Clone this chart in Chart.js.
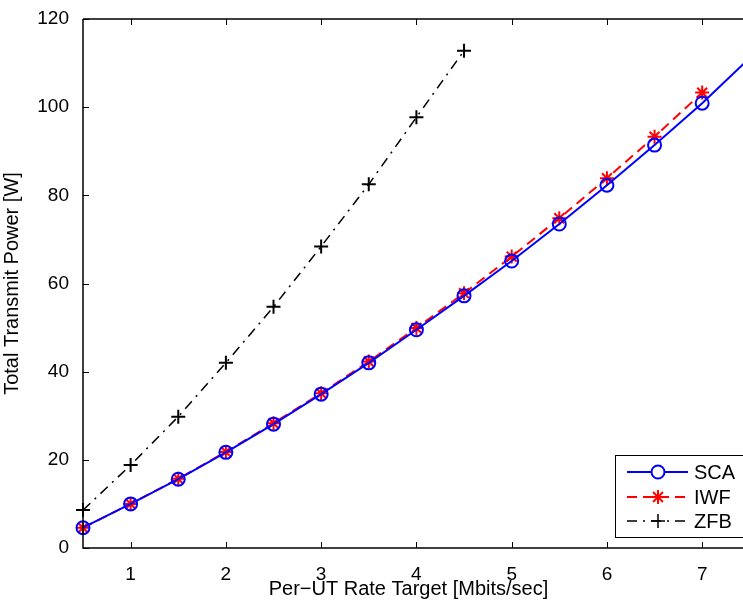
<!DOCTYPE html>
<html>
<head>
<meta charset="utf-8">
<script src="https://cdn.jsdelivr.net/npm/chart.js@4/dist/chart.umd.min.js"></script>
<style>
  html, body { margin: 0; padding: 0; background: #fff; }
  #wrap { width: 743px; height: 601px; }
</style>
</head>
<body>
<div id="wrap"><canvas id="myChart" width="743" height="601"></canvas></div>
<script>
// datos
var rates = [0.5, 1, 1.5, 2, 2.5, 3, 3.5, 4, 4.5, 5, 5.5, 6, 6.5, 7, 7.5];
var scaPower = [4.6, 10.0, 15.6, 21.7, 28.1, 34.9, 42.0, 49.5, 57.2, 65.1, 73.5, 82.3, 91.4, 100.9, 111.2];
var iwfPower = [4.6, 10.0, 15.7, 21.8, 28.3, 35.1, 42.3, 49.9, 57.8, 66.1, 74.8, 83.9, 93.3, 103.3];
var zfbPower = [8.6, 18.8, 29.8, 42.0, 54.7, 68.4, 82.5, 97.7, 112.8];
var xTicks = [1, 2, 3, 4, 5, 6, 7];
var yTicks = [0, 20, 40, 60, 80, 100, 120];

var FONT = '"Liberation Sans", Arial, Helvetica, sans-serif';

function toXY(xs, ys) {
    return ys.map(function (y, i) { return { x: xs[i], y: y }; });
}

// marco y marcas hacia dentro, estilo MATLAB
var framePlugin = {
    id: 'frame',
    afterDraw: function (chart) {
        var c = chart.ctx, a = chart.chartArea;
        var xs = chart.scales.x, ys = chart.scales.y;
        c.save();
        c.strokeStyle = '#000';
        c.lineWidth = 1.5;
        c.beginPath();
        c.moveTo(a.left, a.top); c.lineTo(chart.width, a.top);
        c.moveTo(a.left, a.top); c.lineTo(a.left, a.bottom);
        c.lineTo(chart.width, a.bottom);
        c.stroke();
        c.lineWidth = 1;
        c.beginPath();
        xTicks.forEach(function (t) {
            var px = Math.round(xs.getPixelForValue(t)) + 0.5;
            c.moveTo(px, a.bottom); c.lineTo(px, a.bottom - 6);
            c.moveTo(px, a.top); c.lineTo(px, a.top + 6);
        });
        yTicks.forEach(function (t) {
            var py = Math.round(ys.getPixelForValue(t)) + 0.5;
            c.moveTo(a.left, py); c.lineTo(a.left + 6, py);
        });
        c.stroke();
        c.restore();
    }
};

// leyenda dibujada a mano (linea + marcador)
var legendPlugin = {
    id: 'matlabLegend',
    afterDraw: function (chart) {
        var c = chart.ctx;
        var box = { left: 615, top: 455, right: 760, bottom: 537 };
        c.save();
        c.fillStyle = '#fff';
        c.fillRect(box.left, box.top, box.right - box.left, box.bottom - box.top);
        c.strokeStyle = '#000';
        c.lineWidth = 1;
        c.strokeRect(box.left + 0.5, box.top + 0.5, box.right - box.left, box.bottom - box.top);
        var rows = [472, 497, 521];
        chart.data.datasets.forEach(function (ds, i) {
            var y = rows[i];
            c.strokeStyle = ds.borderColor;
            c.lineWidth = ds.borderWidth;
            c.setLineDash(ds.borderDash || []);
            c.beginPath();
            c.moveTo(627, y); c.lineTo(688, y);
            c.stroke();
            c.setLineDash([]);
            Chart.helpers.drawPoint(c, {
                pointStyle: ds.pointStyle,
                radius: ds.pointRadius,
                borderWidth: ds.pointBorderWidth,
                rotation: 0
            }, 658, y);
            c.fillStyle = '#000';
            c.font = '20px ' + FONT;
            c.textBaseline = 'middle';
            c.textAlign = 'left';
            c.fillText(ds.label, 694, y + 1);
        });
        c.restore();
    }
};

var ctx = document.getElementById('myChart').getContext('2d');
var myChart = new Chart(ctx, {
    type: 'line',
    data: {
        datasets: [{
            label: 'SCA',
            data: toXY(rates, scaPower),
            borderColor: '#0000ff',
            backgroundColor: 'rgba(0,0,0,0)',
            borderWidth: 2,
            pointStyle: 'circle',
            pointRadius: 6.5,
            pointBorderWidth: 2,
            pointBorderColor: '#0000ff',
            pointBackgroundColor: 'rgba(0,0,0,0)',
            tension: 0,
            clip: false
        }, {
            label: 'IWF',
            data: toXY(rates, iwfPower),
            borderColor: '#ff0000',
            backgroundColor: 'rgba(0,0,0,0)',
            borderWidth: 2,
            borderDash: [10, 6],
            pointStyle: 'star',
            pointRadius: 7,
            pointBorderWidth: 2,
            pointBorderColor: '#ff0000',
            tension: 0,
            clip: false
        }, {
            label: 'ZFB',
            data: toXY(rates, zfbPower),
            borderColor: '#000000',
            backgroundColor: 'rgba(0,0,0,0)',
            borderWidth: 1.5,
            borderDash: [10, 6, 2, 6],
            pointStyle: 'cross',
            pointRadius: 7,
            pointBorderWidth: 2,
            pointBorderColor: '#000000',
            tension: 0,
            clip: false
        }]
    },
    options: {
        responsive: false,
        animation: false,
        layout: { padding: { top: 19, right: 0, left: 0, bottom: 0 } },
        plugins: {
            legend: { display: false },
            tooltip: { enabled: false }
        },
        scales: {
            x: {
                type: 'linear',
                min: 0.5,
                max: 7.334,
                afterBuildTicks: function (s) { s.ticks = xTicks.map(function (v) { return { value: v }; }); },
                afterFit: function (s) { s.height = 53; s.paddingLeft = 0; s.paddingRight = 0; },
                grid: { display: false },
                border: { display: false },
                ticks: { color: '#000', padding: 7, font: { size: 19, family: FONT }, maxRotation: 0 },
                title: {
                    display: true,
                    text: 'Per\u2212UT Rate Target [Mbits/sec]',
                    color: '#000',
                    font: { size: 20, family: FONT },
                    padding: { top: 0, bottom: 0 }
                }
            },
            y: {
                type: 'linear',
                min: 0,
                max: 120,
                afterBuildTicks: function (s) { s.ticks = yTicks.map(function (v) { return { value: v }; }); },
                afterFit: function (s) { s.width = 83; s.paddingTop = 0; s.paddingBottom = 0; },
                grid: { display: false },
                border: { display: false },
                ticks: { color: '#000', padding: 6, font: { size: 19, family: FONT } },
                title: {
                    display: true,
                    text: 'Total Transmit Power [W]',
                    color: '#000',
                    font: { size: 20, family: FONT },
                    padding: { top: 0, bottom: 2 }
                }
            }
        }
    },
    plugins: [framePlugin, legendPlugin]
});
</script>
</body>
</html>
